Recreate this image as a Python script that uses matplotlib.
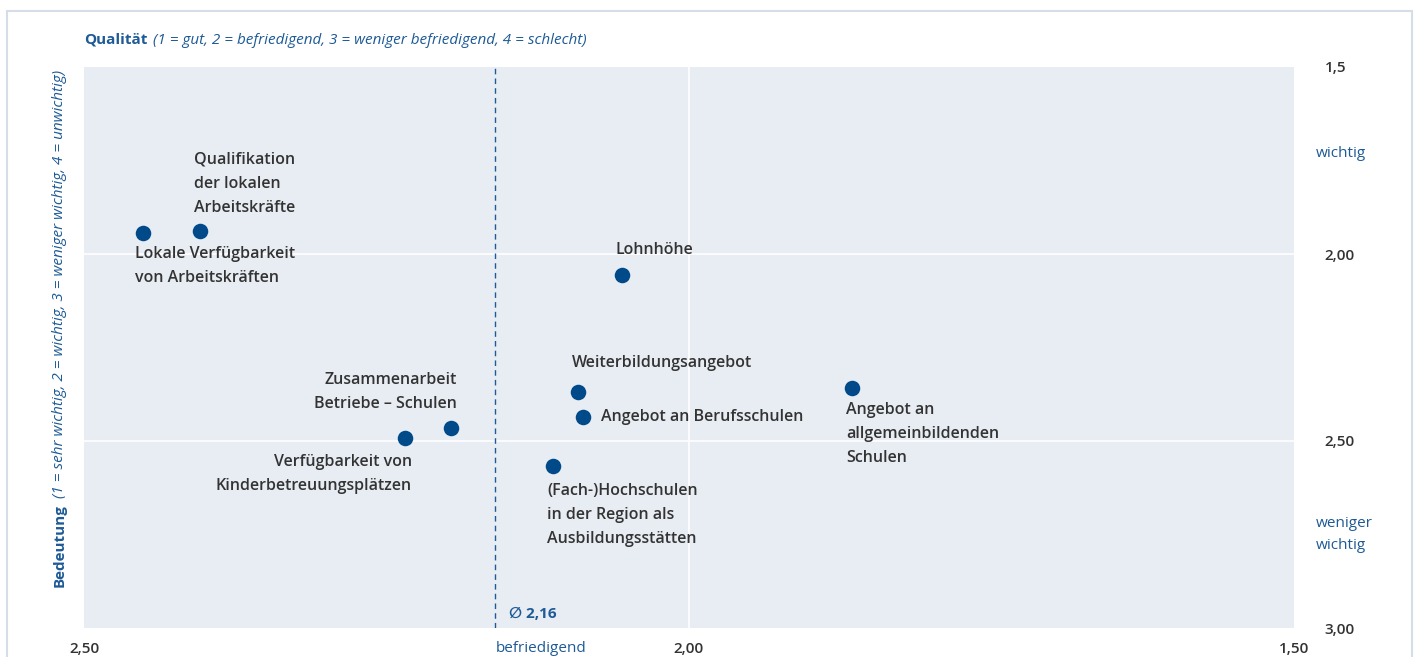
import matplotlib
matplotlib.use("Agg")
import matplotlib.pyplot as plt
from matplotlib.patches import Rectangle

plt.rcParams["font.family"] = ["Open Sans", "DejaVu Sans"]

# data: Qualität (x) and Bedeutung (y)
labels = [
    "Lokale Verfügbarkeit\nvon Arbeitskräften",
    "Qualifikation\nder lokalen\nArbeitskräfte",
    "Lohnhöhe",
    "Weiterbildungsangebot",
    "Angebot an Berufsschulen",
    "Angebot an\nallgemeinbildenden\nSchulen",
    "Zusammenarbeit\nBetriebe – Schulen",
    "Verfügbarkeit von\nKinderbetreuungsplätzen",
    "(Fach-)Hochschulen\nin der Region als\nAusbildungsstätten",
]
qualitaet = [2.451, 2.404, 2.055, 2.092, 2.088, 1.865, 2.197, 2.235, 2.112]
bedeutung = [1.944, 1.939, 2.056, 2.369, 2.436, 2.358, 2.465, 2.492, 2.567]
mean_q = 2.16

xticks = [2.50, 2.00, 1.50]
xticklabels = ["2,50", "2,00", "1,50"]
yticks = [1.5, 2.0, 2.5, 3.0]
yticklabels = ["1,5", "2,00", "2,50", "3,00"]

# label placement: (dx px, dy px, ha, va)
label_pos = [
    (-8, -13, "left", "top"),
    (-6, 15, "left", "bottom"),
    (-7, 17, "left", "bottom"),
    (-6, 21, "left", "bottom"),
    (18, 0, "left", "center"),
    (-6, -14, "left", "top"),
    (6, 16, "right", "bottom"),
    (7, -16, "right", "top"),
    (-6, -17, "left", "top"),
]

BLUE = "#1d5a96"
DOT = "#004a8a"
DARK = "#333333"
BG = "#e8edf4"

W, H = 1418, 657
fig = plt.figure(figsize=(W / 100, H / 100), dpi=100)
ax = fig.add_axes([84 / W, 1 - 628 / H, (1294 - 84) / W, (628 - 67) / H])
ax.set_facecolor(BG)
for s in ax.spines.values():
    s.set_visible(False)

ax.set_xlim(2.5, 1.5)
ax.set_ylim(3.0, 1.5)

ax.axvline(2.0, color="white", lw=1.2, zorder=1)
for v in [2.0, 2.5]:
    ax.axhline(v, color="white", lw=1.2, zorder=1)
ax.axvline(mean_q, color=BLUE, lw=1, ls=(0, (4, 3)), zorder=2)

ax.scatter(qualitaet, bedeutung, s=125, color=DOT, zorder=3, linewidths=0)

for lab, x, y, (dx, dy, ha, va) in zip(labels, qualitaet, bedeutung, label_pos):
    ax.annotate(lab, (x, y), xytext=(dx, dy), textcoords="offset pixels",
                ha=ha, va=va, fontsize=11.5, color=DARK, fontweight="semibold",
                linespacing=1.68, multialignment=ha if ha != "center" else "left")

ax.set_xticks(xticks)
ax.set_xticklabels(xticklabels)
ax.set_yticks(yticks)
ax.set_yticklabels(yticklabels)
ax.yaxis.tick_right()
ax.tick_params(length=0, labelsize=11, labelcolor=DARK)
ax.tick_params(axis="x", pad=10)
ax.tick_params(axis="y", pad=22)
for t in ax.get_yticklabels() + ax.get_xticklabels():
    t.set_fontweight("semibold")

# mean annotation
ax.annotate("∅ 2,16", (mean_q, 3.0), xytext=(14, 14), textcoords="offset pixels",
            ha="left", va="center", fontsize=11, color=BLUE, fontweight="bold")
ax.annotate("befriedigend", (mean_q, 3.0), xytext=(0, -20), textcoords="offset pixels",
            ha="left", va="center", fontsize=11, color=BLUE)

# right side descriptors
ax.annotate("wichtig", (1.0, 1.73), xycoords=("axes fraction", "data"),
            xytext=(22, 0), textcoords="offset pixels", ha="left", va="center",
            fontsize=11, color=BLUE)
ax.annotate("weniger\nwichtig", (1.0, 2.75), xycoords=("axes fraction", "data"),
            xytext=(22, 0), textcoords="offset pixels", ha="left", va="center",
            fontsize=11, color=BLUE, linespacing=1.6)

# titles made of bold + italic pieces
fig.canvas.draw()
r = fig.canvas.get_renderer()
t1 = fig.text(84 / W, 1 - 40 / H, "Qualität", ha="left", va="center",
              fontsize=11, fontweight="bold", color=BLUE)
bb = t1.get_window_extent(r)
fig.text((bb.x1 + 6) / W, 1 - 40 / H,
         "(1 = gut, 2 = befriedigend, 3 = weniger befriedigend, 4 = schlecht)",
         ha="left", va="center", fontsize=11, style="italic", color=BLUE)

t2 = fig.text(60 / W, 1 - 587 / H, "Bedeutung", ha="center", va="bottom",
              rotation=90, fontsize=11, fontweight="bold", color=BLUE)
bb = t2.get_window_extent(r)
fig.text(60 / W, (bb.y1 + 6) / H,
         "(1 = sehr wichtig, 2 = wichtig, 3 = weniger wichtig, 4 = unwichtig)",
         ha="center", va="bottom", rotation=90, fontsize=11, style="italic", color=BLUE)

# outer frame
fig.patches.append(Rectangle((7.5 / W, -0.05), (1412 - 7.5) / W, 1 - 11 / H + 0.05,
                             transform=fig.transFigure, fill=False,
                             edgecolor="#d5dde8", lw=1.5))

fig.savefig("out.png", dpi=100)
